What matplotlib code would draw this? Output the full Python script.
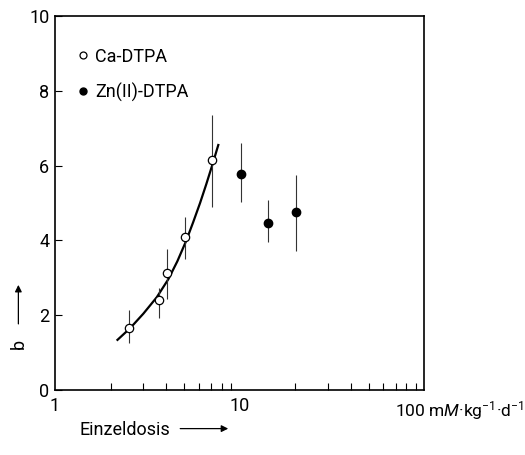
import matplotlib
matplotlib.use("Agg")
import matplotlib.pyplot as plt
from matplotlib.lines import Line2D
from matplotlib.ticker import FixedLocator, NullFormatter

plt.rcParams["font.family"] = ["Roboto", "DejaVu Sans"]
plt.rcParams["mathtext.fontset"] = "custom"
plt.rcParams["mathtext.rm"] = "Roboto"
plt.rcParams["mathtext.it"] = "Roboto:italic"

# Ca-DTPA (offene Kreise)
ca_dose = [2.53, 3.65, 4.03, 5.07, 7.1]
ca_b = [1.65, 2.40, 3.14, 4.08, 6.15]
ca_lo = [1.25, 1.92, 2.42, 3.50, 4.89]
ca_hi = [2.15, 2.73, 3.77, 4.62, 7.34]

# Zn(II)-DTPA (gefuellte Kreise)
zn_dose = [10.2, 14.2, 20.1]
zn_b = [5.78, 4.46, 4.75]
zn_lo = [5.03, 3.95, 3.72]
zn_hi = [6.60, 5.07, 5.75]

# Ausgleichskurve
fit_dose = [2.18, 2.55, 3.01, 3.56, 4.11, 4.6, 5.13, 5.6, 6.11, 6.6, 7.07, 7.67]
fit_b = [1.34, 1.65, 2.04, 2.48, 2.96, 3.44, 3.98, 4.48, 5.00, 5.50, 5.97, 6.55]

x_ticks = [1, 10, 100]
x_tick_labels = ["1", "10", ""]
y_ticks = [0, 2, 4, 6, 8, 10]

fig = plt.figure(figsize=(5.25, 4.55), dpi=100)
ax = fig.add_axes([0.1048, 0.1429, 0.703, 0.8220])

ax.plot(fit_dose, fit_b, color="black", lw=1.6, zorder=2)

ca_err = [[b - lo for b, lo in zip(ca_b, ca_lo)], [hi - b for b, hi in zip(ca_b, ca_hi)]]
zn_err = [[b - lo for b, lo in zip(zn_b, zn_lo)], [hi - b for b, hi in zip(zn_b, zn_hi)]]
ax.errorbar(ca_dose, ca_b, yerr=ca_err, fmt="o", ms=6, mfc="white", mec="black",
            mew=0.9, ecolor="#333333", elinewidth=0.8, capsize=0, zorder=3)
ax.errorbar(zn_dose, zn_b, yerr=zn_err, fmt="o", ms=6, mfc="black", mec="black",
            ecolor="#333333", elinewidth=0.8, capsize=0, zorder=3)

ax.set_xscale("log")
ax.set_xlim(1, 100)
ax.set_ylim(0, 10)
ax.xaxis.set_major_locator(FixedLocator(x_ticks))
ax.set_xticklabels(x_tick_labels)
ax.xaxis.set_minor_locator(FixedLocator([k * d for d in (1, 10) for k in range(2, 10)]))
ax.xaxis.set_minor_formatter(NullFormatter())
ax.set_yticks(y_ticks)
ax.tick_params(axis="both", which="both", direction="in", labelsize=13, width=0.8)
ax.tick_params(axis="x", which="major", length=0, pad=5)
ax.tick_params(axis="x", which="minor", length=5)
ax.tick_params(axis="y", which="major", length=5, pad=4)
for spine in ax.spines.values():
    spine.set_linewidth(1.2)

handles = [
    Line2D([], [], ls="none", marker="o", ms=5, mfc="white", mec="black", mew=0.9),
    Line2D([], [], ls="none", marker="o", ms=5, mfc="black", mec="black"),
]
ax.legend(handles, ["Ca-DTPA", "Zn(II)-DTPA"], loc="upper left", frameon=False,
          fontsize=13, handletextpad=0.2, labelspacing=0.95, handlelength=1.0,
          borderaxespad=0.0, bbox_to_anchor=(0.031, 0.935))

fig.text(0.997, 0.122, r"100 m$\mathit{M}$·kg$^{-1}$·d$^{-1}$", fontsize=12.5,
         ha="right", va="top")

fig.text(0.152, 0.055, "Einzeldosis", fontsize=13, ha="left", va="center")
ax.annotate("", xy=(0.44, 0.058), xytext=(0.338, 0.058), xycoords="figure fraction",
            arrowprops=dict(arrowstyle="-|>", color="black", lw=0.9,
                            mutation_scale=10))

fig.text(0.035, 0.245, "b", fontsize=13, rotation=90, ha="center", va="center")
ax.annotate("", xy=(0.035, 0.38), xytext=(0.035, 0.282), xycoords="figure fraction",
            arrowprops=dict(arrowstyle="-|>", color="black", lw=0.9,
                            mutation_scale=10))

fig.savefig("out.png", dpi=100)
